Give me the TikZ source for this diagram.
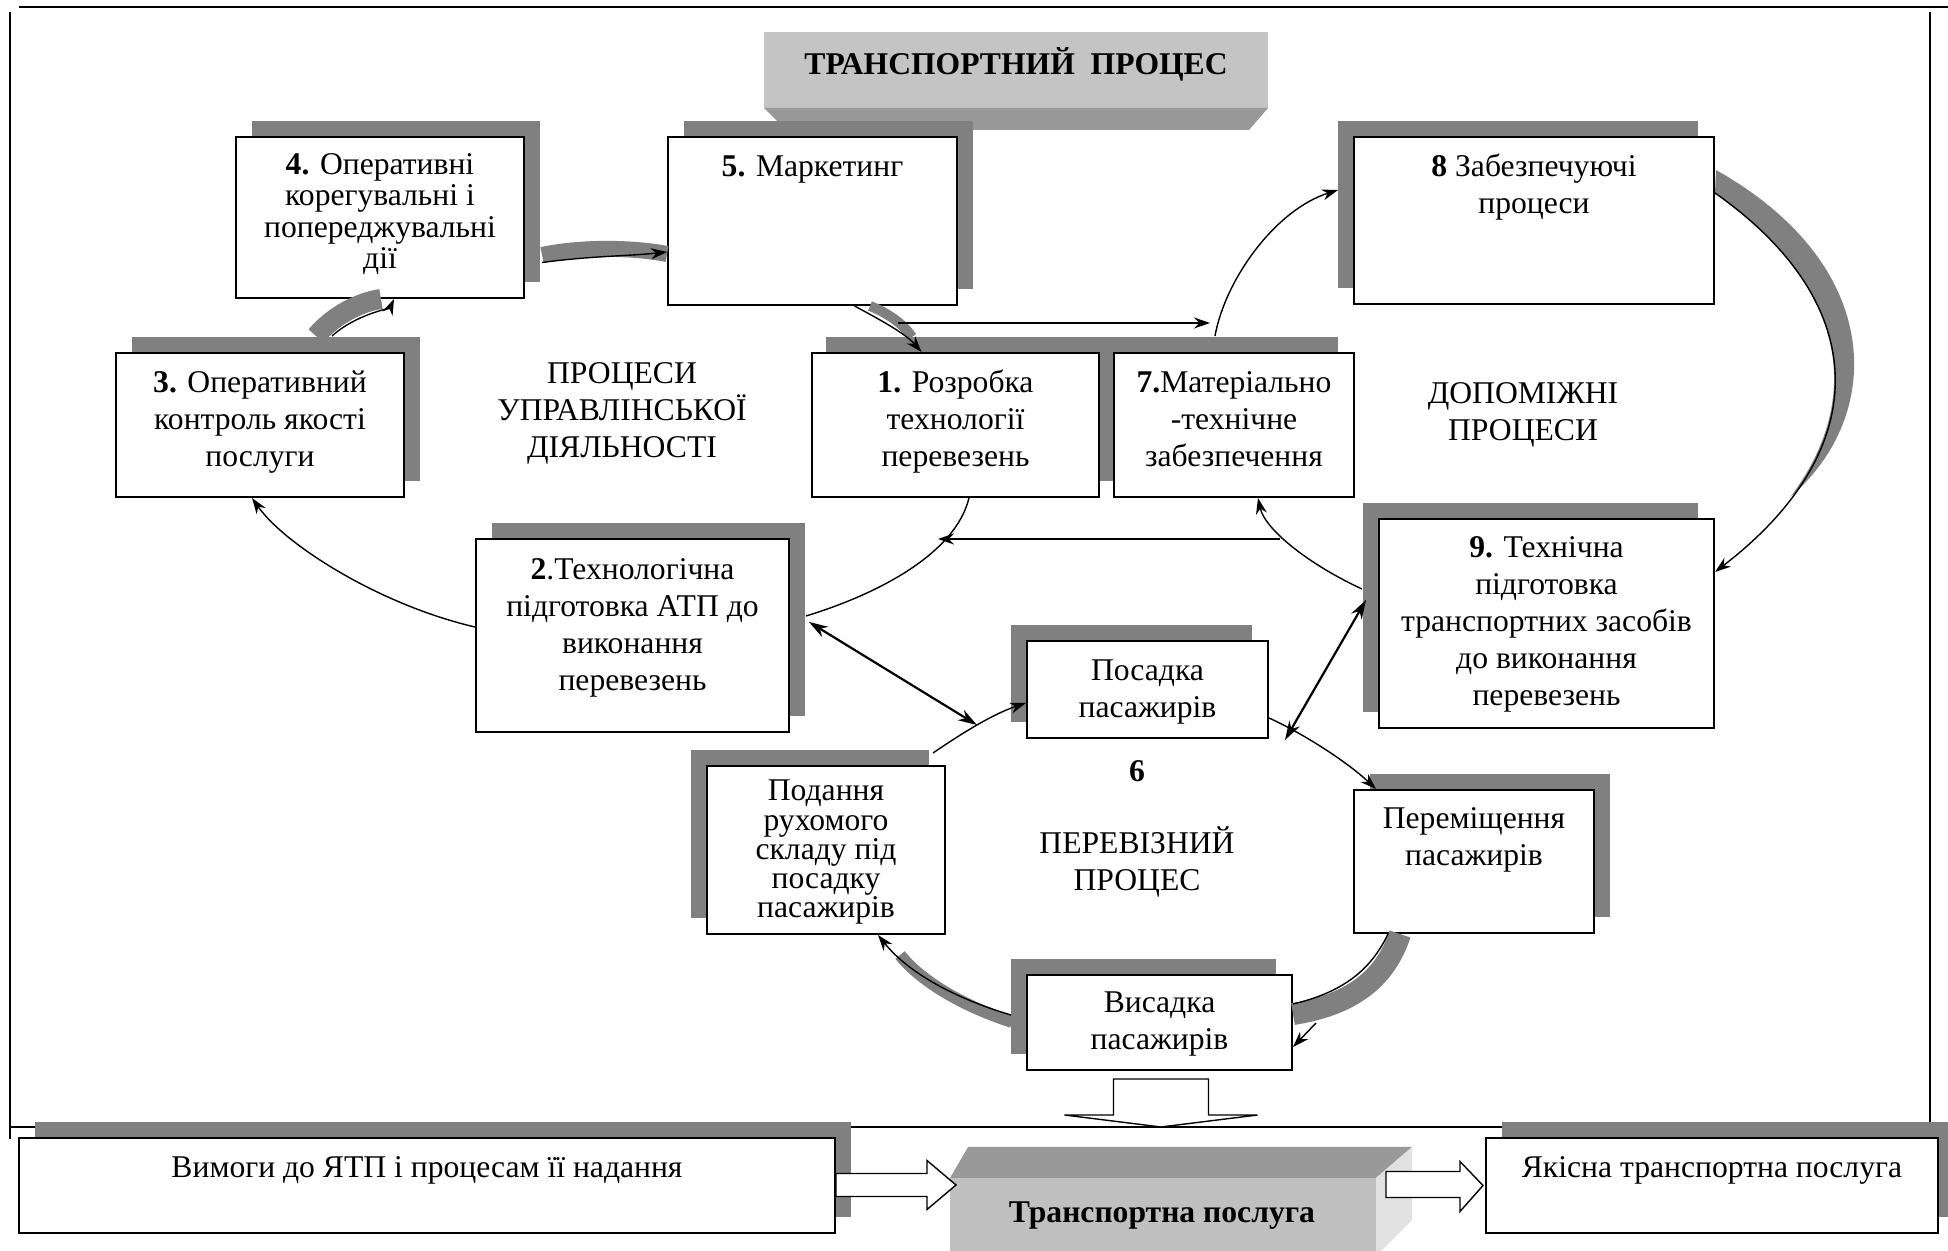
\documentclass[tikz,border=0pt]{standalone}
\usepackage{fontspec}
\setmainfont{Liberation Serif}
\usetikzlibrary{arrows.meta,shadows}

\definecolor{shadowgray}{RGB}{128,128,128}
\definecolor{titlefront}{RGB}{196,196,196}
\definecolor{titlebevel}{RGB}{152,152,152}
\definecolor{cubetop}{RGB}{153,153,153}
\definecolor{cubefront}{RGB}{192,192,192}
\definecolor{cubeside}{RGB}{225,225,225}

\tikzset{
    procbox/.style={draw, fill=white, line width=0.02cm, inner sep=0pt},
    shaderight/.style={general shadow={fill=shadowgray, shadow xshift=0.16cm, shadow yshift=0.16cm}},
    shadeleft/.style={general shadow={fill=shadowgray, shadow xshift=-0.16cm, shadow yshift=0.16cm}},
    boxtext/.style={anchor=north, align=center, inner sep=0pt, font=\fontsize{9pt}{10.5pt}\selectfont},
    band/.style={draw=shadowgray, line width=0.16cm},
    conn/.style={line width=0.014cm, -{Stealth[length=0.16cm,width=0.11cm]}},
    biconn/.style={line width=0.022cm, {Stealth[length=0.19cm,width=0.12cm]}-{Stealth[length=0.19cm,width=0.12cm]}},
    blockarrow/.style={draw, fill=white, line width=0.014cm},
    frameline/.style={line width=0.024cm}
}

\begin{document}
\begin{tikzpicture}[x=1cm,y=-1cm]
    \useasboundingbox (0,0) rectangle (19.48,12.51);
    {\fontsize{9pt}{10.5pt}\selectfont

    % Drawing frame
    \draw [frameline] (0.19,0.07) -- (19.48,0.07);%
    \draw [frameline] (0.10,0.12) -- (0.10,11.39);%
    \draw [frameline] (19.30,0.12) -- (19.30,11.62);%
    \draw [frameline] (0.10,11.27) -- (19.48,11.27);%

    % Drawing title block
    \fill [titlefront] (7.64,0.32) rectangle (12.68,1.08);%
    \fill [titlebevel] (7.64,1.08) -- (12.68,1.08) -- (12.49,1.30) -- (7.86,1.30) -- cycle;%
    \node [anchor=base, font=\fontsize{9pt}{10.5pt}\selectfont\bfseries] (title) at (10.16,0.75) {ТРАНСПОРТНИЙ\ \ ПРОЦЕС};%

    % Marking boxes of the management processes
    \node [procbox, shaderight, minimum width=2.88cm, minimum height=1.61cm] (b4) at (3.80,2.175) {};%
    \node [procbox, shaderight, minimum width=2.89cm, minimum height=1.68cm] (b5) at (8.125,2.21) {};%
    \node [procbox, shadeleft, minimum width=3.60cm, minimum height=1.67cm] (b8) at (15.34,2.205) {};%
    \node [procbox, shadeleft, minimum width=2.40cm, minimum height=1.44cm] (b7) at (12.34,4.25) {};%
    \node [procbox, general shadow={fill=shadowgray, shadow xshift=0.14cm, shadow yshift=0.16cm},
           minimum width=2.87cm, minimum height=1.44cm] (b1) at (9.555,4.25) {};%
    \node [procbox, shaderight, minimum width=2.88cm, minimum height=1.44cm] (b3) at (2.60,4.25) {};%
    \node [procbox, shaderight, minimum width=3.13cm, minimum height=1.93cm] (b2) at (6.325,6.355) {};%
    \node [procbox, shadeleft, minimum width=3.35cm, minimum height=2.09cm] (b9) at (15.465,6.235) {};%

    % Marking boxes of the transport process
    \node [procbox, shadeleft, minimum width=2.41cm, minimum height=0.97cm] (pos) at (11.475,6.895) {};%
    \node [procbox, shaderight, minimum width=2.40cm, minimum height=1.43cm] (per) at (14.74,8.615) {};%
    \node [procbox, shadeleft, minimum width=2.38cm, minimum height=1.68cm] (pod) at (8.26,8.50) {};%
    \node [procbox, shadeleft, minimum width=2.65cm, minimum height=0.95cm] (vys) at (11.595,10.225) {};%

    % Marking bottom boxes
    \node [procbox, shaderight, minimum width=8.16cm, minimum height=0.95cm] (vym) at (4.27,11.855) {};%
    \node [procbox, shaderight, minimum width=4.52cm, minimum height=0.95cm] (yak) at (17.12,11.855) {};%

    % Box texts
    \node [boxtext, font=\fontsize{9pt}{8.9pt}\selectfont] (b4t) at ([yshift=-0.16cm]b4.north)
          {\strut\textbf{4.} Оперативні\\корегувальні і\\попереджувальні\\дії};%
    \node [boxtext] (b5t) at ([yshift=-0.14cm]b5.north) {\strut\textbf{5.} Маркетинг};%
    \node [boxtext] (b8t) at ([yshift=-0.14cm]b8.north) {\strut\textbf{8} Забезпечуючі\\процеси};%
    \node [boxtext] (b3t) at ([yshift=-0.14cm]b3.north) {\strut\textbf{3.} Оперативний\\контроль якості\\послуги};%
    \node [boxtext] (b1t) at ([yshift=-0.14cm]b1.north) {\strut\textbf{1.} Розробка\\технології\\перевезень};%
    \node [boxtext] (b7t) at ([yshift=-0.14cm]b7.north) {\strut\textbf{7.}Матеріально\\-технічне\\забезпечення};%
    \node [boxtext] (b2t) at ([yshift=-0.15cm]b2.north) {\strut\textbf{2}.Технологічна\\підготовка АТП до\\виконання\\перевезень};%
    \node [boxtext] (b9t) at ([yshift=-0.13cm]b9.north) {\strut\textbf{9.} Технічна\\підготовка\\транспортних засобів\\до виконання\\перевезень};%
    \node [boxtext] (post) at ([yshift=-0.14cm]pos.north) {\strut Посадка\\пасажирів};%
    \node [boxtext] (pert) at ([yshift=-0.13cm]per.north) {\strut Переміщення\\пасажирів};%
    \node [boxtext, font=\fontsize{9pt}{8.3pt}\selectfont] (podt) at ([yshift=-0.145cm]pod.north)
          {\strut Подання\\рухомого\\складу під\\посадку\\пасажирів};%
    \node [boxtext] (vyst) at ([yshift=-0.12cm]vys.north) {\strut Висадка\\пасажирів};%
    \node [boxtext] (vymt) at ([yshift=-0.14cm]vym.north) {\strut Вимоги до ЯТП і процесам її надання};%
    \node [boxtext] (yakt) at ([yshift=-0.14cm]yak.north) {\strut Якісна транспортна послуга};%

    % Marking group labels
    \node [boxtext] (upr) at (6.22,3.57) {\strut ПРОЦЕСИ\\УПРАВЛІНСЬКОЇ\\ДІЯЛЬНОСТІ};%
    \node [boxtext] (dop) at (15.23,3.77) {\strut ДОПОМІЖНІ\\ПРОЦЕСИ};%
    \node [anchor=base, font=\fontsize{9pt}{10.5pt}\selectfont\bfseries] (six) at (11.37,7.82) {6};%
    \node [boxtext] (perev) at (11.37,8.26) {\strut ПЕРЕВІЗНИЙ\\ПРОЦЕС};%

    % Drawing bands
    \draw [band, line width=0.20cm] ([xshift=0.56cm,yshift=0.16cm]b3.north) .. controls (3.34,3.15) and (3.60,3.02) .. ([xshift=0.01cm]b4.south);%
    \draw [band] ([xshift=0.17cm,yshift=-0.375cm]b4.east) .. controls (5.80,2.47) and (6.30,2.47) .. ([yshift=-0.33cm]b5.west);%
    \draw [band, line width=0.10cm] ([xshift=0.575cm]b5.south) .. controls (8.85,3.12) and (9.02,3.22) .. (9.12,3.37);%
    \fill [shadowgray] ([xshift=0.01cm,yshift=0.505cm]b8.east) .. controls (18.85,2.65) and (18.85,4.15) .. (17.908,4.965)
          .. controls (18.676,3.933) and (18.42,2.826) .. ([yshift=0.275cm]b8.east) -- cycle;%
    \draw [band, line width=0.22cm] ([xshift=-0.74cm]per.south) .. controls (13.85,9.80) and (13.50,10.05) .. ([yshift=0.085cm]vys.east);%
    \draw [band, line width=0.12cm] ([xshift=-0.14cm,yshift=0.005cm]vys.west) .. controls (9.60,10.05) and (9.20,9.80) .. (9.00,9.55);%

    % Drawing connectors of the management processes
    \draw [conn] ([xshift=0.72cm,yshift=0.16cm]b3.north) .. controls (3.55,3.15) and (3.90,3.08) .. ([xshift=0.14cm]b4.south);%
    \draw [conn] ([xshift=0.17cm,yshift=-0.45cm]b4.east) .. controls (5.90,2.56) and (6.30,2.56) .. ([yshift=-0.31cm]b5.west);%
    \draw [conn] ([xshift=0.42cm]b5.south) .. controls (8.75,3.17) and (9.05,3.33) .. ([xshift=-0.34cm]b1.north);%
    \draw [line width=0.014cm] ([xshift=0.135cm]b1.south) .. controls (9.55,5.55) and (8.75,5.95) .. ([xshift=0.16cm,yshift=0.195cm]b2.east);%
    \draw [conn] ([yshift=0.085cm]b2.west) .. controls (3.80,6.05) and (2.85,5.45) .. ([xshift=-0.08cm]b3.south);%

    % Drawing connectors of the auxiliary processes
    \draw [conn] ([xshift=-0.19cm,yshift=0.16cm]b7.north) .. controls (12.25,2.80) and (12.75,2.10) .. ([xshift=-0.15cm,yshift=0.305cm]b8.west);%
    \draw [conn] ([yshift=0.275cm]b8.east) .. controls (18.74,3.05) and (18.74,4.50) .. ([yshift=0.515cm]b9.east);%
    \draw [conn] ([xshift=-0.16cm,yshift=0.345cm]b9.west) .. controls (13.10,5.65) and (12.65,5.30) .. ([xshift=0.24cm]b7.south);%

    % Drawing horizontal links
    \coordinate (h1) at (8.98,3.23);%
    \coordinate (h2) at (12.10,3.23);%
    \draw [conn, line width=0.02cm] (h1) -- (h2);%
    \coordinate (h3) at (12.80,5.39);%
    \coordinate (h4) at (9.38,5.39);%
    \draw [conn, line width=0.02cm] (h3) -- (h4);%

    % Drawing double links
    \coordinate (d1) at (9.77,7.25);%
    \draw [biconn] ([xshift=0.19cm,yshift=0.135cm]b2.east) -- (d1);%
    \coordinate (d2) at (12.85,7.40);%
    \draw [biconn] ([xshift=-0.12cm,yshift=0.235cm]b9.west) -- (d2);%

    % Drawing connectors of the transport process
    \draw [conn] ([xshift=1.07cm,yshift=0.12cm]pod.north) .. controls (9.55,7.38) and (9.90,7.15) .. ([yshift=-0.135cm]pos.west);%
    \draw [conn] ([yshift=-0.285cm]pos.east) .. controls (13.00,7.32) and (13.45,7.60) .. ([xshift=-0.98cm]per.north);%
    \draw [line width=0.014cm] ([xshift=-0.86cm]per.south) .. controls (13.70,9.72) and (13.40,9.93) .. ([yshift=0.185cm]vys.east);%
    \coordinate (v1) at (13.16,10.23);%
    \draw [conn] (v1) -- ([yshift=-0.245cm]vys.east);%
    \draw [conn] ([xshift=-0.15cm,yshift=0.075cm]vys.west) .. controls (9.60,10.00) and (9.10,9.75) .. ([xshift=0.52cm]pod.south);%

    % Drawing service block
    \fill [cubefront] (9.50,11.78) rectangle (13.76,12.60);%
    \fill [cubetop] (9.50,11.78) -- (9.68,11.47) -- (14.12,11.47) -- (13.76,11.78) -- cycle;%
    \fill [cubeside] (13.76,11.78) -- (14.12,11.47) -- (14.12,12.20) -- (13.76,12.56) -- cycle;%
    \node [anchor=base, font=\fontsize{9pt}{10.5pt}\selectfont\bfseries] (serv) at (11.62,12.23) {Транспортна послуга};%

    % Drawing block arrows
    \draw [blockarrow] ([yshift=0.12cm]vym.east) -- ++(0.91,0) -- ++(0,-0.13) -- ++(0.29,0.245)
          -- ++(-0.29,0.245) -- ++(0,-0.13) -- ++(-0.91,0) -- cycle;%
    \draw [blockarrow] ([xshift=-0.02cm]yak.west) -- ++(-0.23,-0.24) -- ++(0,0.10) -- ++(-0.74,0)
          -- ++(0,0.26) -- ++(0.74,0) -- ++(0,0.14) -- cycle;%
    \draw [blockarrow] ([xshift=-0.46cm,yshift=-0.08cm]vys.south) -- ++(0.95,0) -- ++(0,0.36) -- ++(0.49,0)
          -- ++(-0.965,0.12) -- ++(-0.965,-0.12) -- ++(0.49,0) -- cycle;%
    }
\end{tikzpicture}
\end{document}
